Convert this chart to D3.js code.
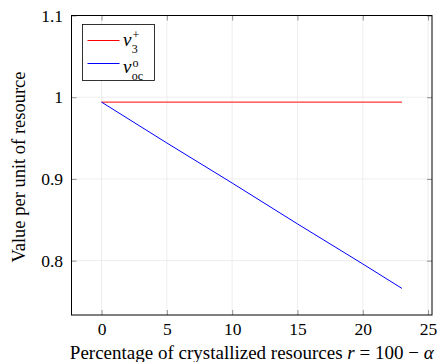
<!DOCTYPE html>
<html>
<head>
<meta charset="utf-8">
<script src="https://cdn.jsdelivr.net/npm/d3@7"></script>
<style>
  body { margin: 0; background: #fff; }
</style>
</head>
<body>
<script>
// data
var xs       = [0, 5, 10, 15, 20, 23],
    vPlus    = [0.994, 0.994, 0.994, 0.994, 0.994, 0.994],
    vOc      = [0.994, 0.944, 0.895, 0.845, 0.796, 0.766],
    xTicks   = [0, 5, 10, 15, 20, 25],
    yTicks   = [0.8, 0.9, 1, 1.1];

var W = 438, H = 362,
    FONT = "'Liberation Serif', serif",
    TS = 17.5,   // tick labels
    LS = 19,     // axis titles
    SS = 12,     // sub/superscripts
    m = { l: 71.5, r: 6, t: 15.5, b: 47 },
    pw = W - m.l - m.r, ph = H - m.t - m.b;

var svg = d3.select("body").append("svg").attr("width", W).attr("height", H)
    .style("font-family", FONT);
var g = svg.append("g").attr("transform", "translate(" + m.l + "," + m.t + ")");

var x = d3.scaleLinear().domain([-2.3, 25.3]).range([0, pw]),
    y = d3.scaleLinear().domain([0.7335, 1.1]).range([ph, 0]);

/* grid */
g.append("g").selectAll("line").data(xTicks).join("line")
    .attr("x1", d => x(d)).attr("x2", d => x(d)).attr("y1", 0).attr("y2", ph)
    .attr("stroke", "#e6e6e6").attr("stroke-width", 0.7);
g.append("g").selectAll("line").data(yTicks).join("line")
    .attr("y1", d => y(d)).attr("y2", d => y(d)).attr("x1", 0).attr("x2", pw)
    .attr("stroke", "#e6e6e6").attr("stroke-width", 0.7);

/* axes: inner ticks on all four sides */
var tk = 5;
var bottom = g.append("g").attr("transform", "translate(0," + ph + ")")
    .call(d3.axisBottom(x).tickValues(xTicks).tickSize(-tk).tickPadding(7.5).tickFormat(d3.format("d")));
var top_ = g.append("g")
    .call(d3.axisTop(x).tickValues(xTicks).tickSize(-tk).tickFormat(""));
var left = g.append("g")
    .call(d3.axisLeft(y).tickValues(yTicks).tickSize(-tk).tickPadding(8.5).tickFormat(d => d === 1 ? "1" : d3.format(".1f")(d)));
var right = g.append("g").attr("transform", "translate(" + pw + ",0)")
    .call(d3.axisRight(y).tickValues(yTicks).tickSize(-tk).tickFormat(""));

[bottom, top_, left, right].forEach(function(a){
    a.attr("font-family", null).attr("font-size", null);
    a.select(".domain").remove();
    a.selectAll(".tick line").attr("stroke", "#777").attr("stroke-width", 0.8);
    a.selectAll("text").attr("font-size", TS).attr("fill", "#000");
});

g.append("rect").attr("width", pw).attr("height", ph)
    .attr("fill", "none").attr("stroke", "#000").attr("stroke-width", 1);

/* lines */
var line = d3.line().x(d => x(d[0])).y(d => y(d[1]));
g.append("path").datum(d3.zip(xs, vPlus)).attr("d", line)
    .attr("fill", "none").attr("stroke", "#ff0000").attr("stroke-width", 1);
g.append("path").datum(d3.zip(xs, vOc)).attr("d", line)
    .attr("fill", "none").attr("stroke", "#0000ff").attr("stroke-width", 1);

/* legend */
var lg = svg.append("g").attr("transform", "translate(82.5,24.5)");
lg.append("rect").attr("width", 72).attr("height", 56)
    .attr("fill", "#fff").attr("stroke", "#000").attr("stroke-width", 0.8);

var entries = [
    { color: "#ff0000", ly: 16, base: 21, sub: "3",  subDy: 7.5, sup: "+", supDy: -6.5 },
    { color: "#0000ff", ly: 39, base: 48, sub: "oc", subDy: 7.5, sup: "o", supDy: -6 }
];
entries.forEach(function(e){
    lg.append("line").attr("x1", 5).attr("x2", 37).attr("y1", e.ly).attr("y2", e.ly)
        .attr("stroke", e.color).attr("stroke-width", 1);
    var v = lg.append("text").attr("x", 40.5).attr("y", e.base)
        .attr("font-size", LS).attr("font-style", "italic").text("v");
    var vx = 40.5 + v.node().getComputedTextLength() + 0.3;
    lg.append("text").attr("x", vx).attr("y", e.base + e.subDy)
        .attr("font-size", SS).text(e.sub);
    lg.append("text").attr("x", vx + 0.8).attr("y", e.base + e.supDy)
        .attr("font-size", SS).text(e.sup);
});

/* axis titles */
var xl = svg.append("text").attr("x", m.l + pw / 2).attr("y", 359)
    .attr("text-anchor", "middle").attr("font-size", LS);
xl.append("tspan").text("Percentage of crystallized resources ");
xl.append("tspan").attr("font-style", "italic").text("r");
xl.append("tspan").text(" = 100 \u2212 ");
xl.append("tspan").attr("font-style", "italic").text("\u03b1");

svg.append("text")
    .attr("transform", "translate(25," + 167 + ") rotate(-90)")
    .attr("text-anchor", "middle").attr("font-size", 18.5)
    .text("Value per unit of resource");
</script>
</body>
</html>
